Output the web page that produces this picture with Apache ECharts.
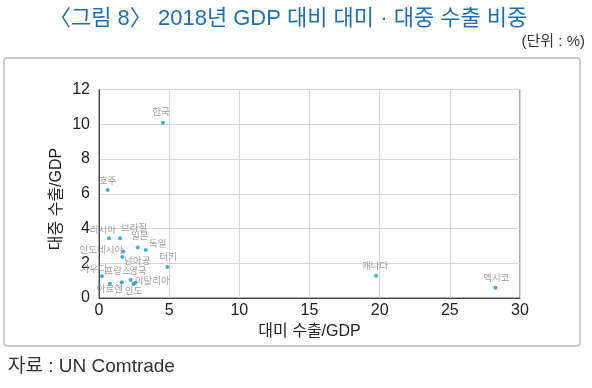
<!DOCTYPE html>
<html><head><meta charset="utf-8">
<script src="https://cdn.jsdelivr.net/npm/echarts@6/dist/echarts.min.js"></script>
<style>html,body{margin:0;padding:0;background:#fff}#c{width:592px;height:388px}</style>
</head><body><div id="c"></div>
<script>
const countries = ['한국','호주','러시아','브라질','일본','독일','인도네시아','남아공','터키','사우디','프랑스','영국','이탈리아','인도','아르헨','캐나다','멕시코'];
const usShare = [4.56,0.62,0.71,1.50,2.76,3.33,1.73,1.66,4.87,0.21,1.62,2.26,2.59,2.45,0.78,19.74,28.25];
const cnShare = [10.09,6.22,3.44,3.44,2.90,2.76,2.67,2.36,1.78,1.25,0.90,1.04,0.88,0.81,0.82,1.28,0.59];
const xTicks = [0,5,10,15,20,25,30];
const yTicks = [0,2,4,6,8,10,12];
const labelOffsets = {
  '한국':[-2,-10],'호주':[0,-9],'러시아':[-6,-8],'브라질':[14,-10],'일본':[2,-11],'독일':[12,-6],
  '인도네시아':[-22,-1],'남아공':[15,4],'터키':[1,-10],'사우디':[-8,-7],'프랑스':[-4,-11],'영국':[7,-9],
  '이탈리아':[17,-1],'인도':[0,7],'아르헨':[0,6],'캐나다':[-1,-9],'멕시코':[1,-9]
};
const FONT = '"Liberation Sans", "Noto Sans CJK KR", sans-serif';
const data = countries.map((n,i)=>({
  name:n, value:[usShare[i], cnShare[i]],
  label:{offset:labelOffsets[n]}
}));
const chart = echarts.init(document.getElementById('c'));
chart.setOption({
  animation:false,
  textStyle:{fontFamily:FONT},
  title:{
    text:'〈그림 8〉 2018년 GDP 대비 대미 · 대중 수출 비중',
    left:44, top:3,
    textStyle:{fontFamily:FONT, fontSize:22, fontWeight:'normal', color:'#1a6fb8'}
  },
  graphic:[
    {type:'rect', z:-10, shape:{x:4,y:58,width:576,height:288,r:3}, style:{fill:'#fff', stroke:'#cdcdcd', lineWidth:2}},
    {type:'text', right:7, top:34, style:{text:'(단위 : %)', font:'15px '+FONT, fill:'#333'}},
    {type:'text', left:8, top:357, style:{text:'자료 : UN Comtrade', font:'19px '+FONT, fill:'#333'}},
    {type:'text', x:57, y:199, rotation:Math.PI/2, style:{text:'대중 수출/GDP', font:'16px '+FONT, fill:'#222', align:'center', verticalAlign:'middle'}}
  ],
  grid:{left:99, right:72, top:89.5, bottom:90, show:true, borderColor:'#555', borderWidth:1},
  xAxis:{
    type:'value', min:0, max:30, interval:5,
    name:'대미 수출/GDP', nameLocation:'middle', nameGap:20,
    nameTextStyle:{fontSize:16, color:'#222', fontFamily:FONT},
    axisLine:{show:true, lineStyle:{color:'#444'}}, axisTick:{show:false},
    axisLabel:{fontSize:16, color:'#222', margin:5, fontFamily:FONT,
      formatter:v=>xTicks.includes(v)?String(v):''},
    splitLine:{show:true, lineStyle:{color:'#d6d6d6'}}
  },
  yAxis:{
    type:'value', min:0, max:12, interval:2,
    axisLine:{show:true, lineStyle:{color:'#444'}}, axisTick:{show:false},
    axisLabel:{fontSize:16, color:'#222', margin:9, fontFamily:FONT,
      formatter:v=>yTicks.includes(v)?String(v):''},
    splitLine:{show:true, lineStyle:{color:'#d6d6d6'}}
  },
  series:[{
    type:'scatter', symbolSize:4, data:data,
    itemStyle:{color:'#1795c8'},
    label:{show:true, position:'inside', formatter:'{b}', fontSize:9.5, color:'#888', fontFamily:FONT}
  }]
});
</script></body></html>
